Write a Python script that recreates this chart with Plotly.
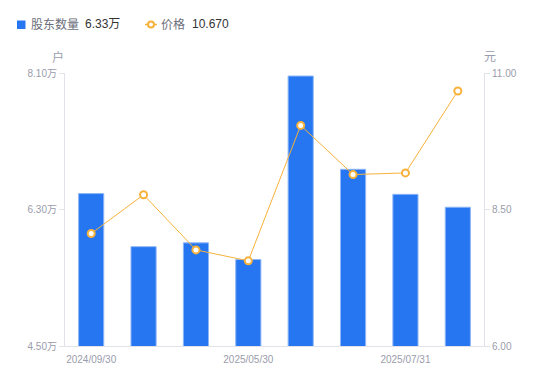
import plotly.graph_objects as go

dates = ["2024/09/30", "2024/12/31", "2025/03/31", "2025/05/30",
         "2025/06/30", "2025/07/10", "2025/07/31", "2025/08/29"]
holders = [6.51, 5.81, 5.86, 5.64, 8.06, 6.83, 6.50, 6.33]  # 万户
price = [8.06, 8.77, 7.76, 7.56, 10.04, 9.14, 9.17, 10.67]  # 元
x_ticks = ["2024/09/30", "2025/05/30", "2025/07/31"]
left_ticks = [4.50, 6.30, 8.10]
right_ticks = [6.00, 8.50, 11.00]

GRAY = "#9a9cab"
DARK = "#333333"
BLUE = "#2676F1"
ORANGE = "#F7B23B"
FONT = "Liberation Sans, Noto Sans CJK SC, sans-serif"

OFF = 8  # default page body margin
W, H = 550 - OFF, 381 - OFF
# plot area in page pixels: x 65..484, y 73..346
ML, MT = 65 - OFF, 73 - OFF
MR, MB = 550 - 484, 381 - 346
PW, PH = W - ML - MR, H - MT - MB


def px(x):  # page pixel -> paper
    return (x - 65) / PW


def py(y):
    return (346 - y) / PH


fig = go.Figure()
fig.add_trace(go.Bar(
    x=dates, y=holders, name="股东数量",
    marker=dict(color=BLUE, line=dict(color="#8db6f7", width=1)),
    width=0.48, yaxis="y", showlegend=False,
))
fig.add_trace(go.Scatter(
    x=dates, y=price, name="价格",
    mode="lines+markers", yaxis="y2", showlegend=False,
    line=dict(color=ORANGE, width=1),
    marker=dict(symbol="circle", size=7, color="#ffffff",
                line=dict(color=ORANGE, width=2)),
))

shapes = [
    dict(type="rect", xref="paper", yref="paper", x0=px(17), x1=px(25.5),
         y0=py(20.5), y1=py(29), fillcolor=BLUE, line=dict(width=0)),
    dict(type="line", xref="paper", yref="paper", x0=px(145), x1=px(157),
         y0=py(24.5), y1=py(24.5), line=dict(color=ORANGE, width=1.5)),
    dict(type="circle", xref="paper", yref="paper", x0=px(148), x1=px(154),
         y0=py(27.5), y1=py(21.5), fillcolor="white", line=dict(color=ORANGE, width=2)),
]


def ann(text, x, y, color, size=12, xanchor="left"):
    return dict(text=text, x=px(x), y=py(y), xref="paper", yref="paper",
                showarrow=False, xanchor=xanchor, yanchor="middle",
                font=dict(size=size, color=color, family=FONT))


annotations = [
    ann("股东数量", 29, 24.5, "#6b6e7a"),
    ann("6.33万", 83, 24.5, DARK),
    ann("价格", 159, 24.5, "#6b6e7a"),
    ann("10.670", 190, 24.5, DARK),
    ann("户", 58, 57, GRAY, xanchor="center"),
    ann("元", 490, 57, GRAY, xanchor="center"),
]

fig.update_layout(
    width=W, height=H,
    margin=dict(l=ML, r=MR, t=MT, b=MB, autoexpand=False),
    paper_bgcolor="white", plot_bgcolor="white",
    font=dict(family=FONT, size=12, color=GRAY),
    showlegend=False,
    shapes=shapes, annotations=annotations,
    xaxis=dict(type="category", categoryarray=dates, tickmode="array",
               tickvals=x_ticks, ticktext=x_ticks, showgrid=False,
               showline=True, linecolor="#e2e3e8", linewidth=1, automargin=False,
               ticks="", tickfont=dict(size=10, color=GRAY), zeroline=False,
               ticklabelstandoff=4),
    yaxis=dict(range=[4.5, 8.1], tickmode="array", tickvals=left_ticks,
               ticktext=[f"{v:.2f}万" for v in left_ticks], showgrid=False,
               showline=True, linecolor="#e2e3e8", linewidth=1, ticks="outside",
               ticklen=5, tickcolor="#e2e3e8", tickfont=dict(size=10, color=GRAY),
               zeroline=False, automargin=False),
    yaxis2=dict(range=[6, 11], overlaying="y", side="right", tickmode="array",
                tickvals=right_ticks, ticktext=[f"{v:.2f}" for v in right_ticks],
                showgrid=False, showline=True, linecolor="#e2e3e8", linewidth=1,
                ticks="outside", ticklen=5, tickcolor="#e2e3e8", automargin=False,
                tickfont=dict(size=10, color=GRAY), zeroline=False),
)

fig.write_html("out.html")
